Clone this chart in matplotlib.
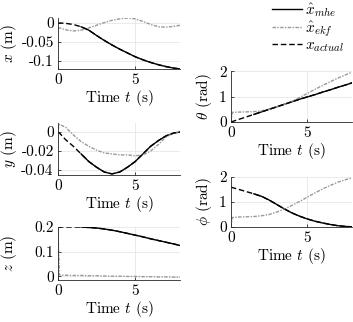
import matplotlib
matplotlib.use('Agg')
import matplotlib.pyplot as plt

plt.rcParams['font.family'] = 'serif'
plt.rcParams['font.serif'] = ['cmr10']
plt.rcParams['mathtext.fontset'] = 'cm'
plt.rcParams['axes.unicode_minus'] = False
plt.rcParams['font.size'] = 11

# time grid (s)
t = [0, 0.1, 0.5, 1.0, 1.5, 2.0, 2.5, 3.0, 3.5, 4.0, 4.5, 5.0, 5.5, 6.0,
     6.5, 7.0, 7.5, 7.9]
# mhe output starts once the horizon is filled
t_mhe = [1.5, 2.0, 2.5, 3.0, 3.5, 4.0, 4.5, 5.0, 5.5, 6.0, 6.5, 7.0, 7.5, 7.9]

x_act = [0, 0, -0.001, -0.004, -0.010, -0.019, -0.033, -0.046, -0.058, -0.069,
         -0.079, -0.089, -0.097, -0.104, -0.110, -0.115, -0.119, -0.121]
x_ekf = [-0.012, -0.013, -0.018, -0.021, -0.019, -0.013, -0.006, 0.001, 0.007,
         0.011, 0.013, 0.011, 0.004, -0.004, -0.010, -0.011, -0.009, -0.006]
x_mhe = [-0.010, -0.019, -0.033, -0.046, -0.058, -0.069, -0.079, -0.089,
         -0.097, -0.104, -0.110, -0.115, -0.119, -0.121]

y_act = [0, -0.001, -0.008, -0.015, -0.023, -0.031, -0.037, -0.042, -0.044,
         -0.042, -0.037, -0.031, -0.023, -0.015, -0.009, -0.004, -0.001, 0]
y_ekf = [0.002, 0.008, 0.005, -0.003, -0.010, -0.015, -0.019, -0.022, -0.023,
         -0.024, -0.024, -0.025, -0.024, -0.020, -0.013, -0.005, -0.001, 0]
y_mhe = [-0.023, -0.031, -0.037, -0.042, -0.044, -0.042, -0.037, -0.031,
         -0.023, -0.015, -0.009, -0.004, -0.001, 0]

z_act = [0.2, 0.2, 0.2, 0.2, 0.2, 0.198, 0.196, 0.192, 0.187, 0.181, 0.174,
         0.167, 0.160, 0.152, 0.145, 0.138, 0.131, 0.125]
z_ekf = [0.2, 0.005, 0.004, 0.003, 0.003, 0.002, 0.002, 0.001, 0.0, 0.0,
         -0.001, -0.001, -0.002, -0.002, -0.003, -0.003, -0.004, -0.004]
z_mhe = [0.2, 0.198, 0.196, 0.192, 0.187, 0.181, 0.174, 0.167, 0.160, 0.152,
         0.145, 0.138, 0.131, 0.125]

th_act = [0, 0.02, 0.1, 0.2, 0.3, 0.4, 0.5, 0.6, 0.7, 0.8, 0.9, 0.99, 1.08,
          1.18, 1.27, 1.37, 1.46, 1.54]
th_ekf = [0, 0.38, 0.39, 0.40, 0.41, 0.44, 0.50, 0.60, 0.70, 0.82, 0.97, 1.13,
          1.29, 1.44, 1.59, 1.73, 1.86, 1.96]
th_mhe = [0.3, 0.4, 0.5, 0.6, 0.7, 0.8, 0.9, 0.99, 1.08, 1.18, 1.27, 1.37,
          1.46, 1.54]

ph_act = [1.6, 1.58, 1.51, 1.42, 1.33, 1.23, 1.08, 0.90, 0.72, 0.56, 0.43,
          0.32, 0.23, 0.16, 0.10, 0.05, 0.02, 0.01]
ph_ekf = [0, 0.38, 0.40, 0.41, 0.42, 0.45, 0.50, 0.60, 0.72, 0.87, 1.03, 1.20,
          1.37, 1.53, 1.67, 1.80, 1.90, 1.96]
ph_mhe = [1.33, 1.23, 1.08, 0.90, 0.72, 0.56, 0.43, 0.32, 0.23, 0.16, 0.10,
          0.05, 0.02, 0.01]

fig = plt.figure(figsize=(3.53, 3.22), dpi=100)

# [left, bottom, width, height]
ax_x = fig.add_axes([0.164, 0.786, 0.346, 0.158])
ax_y = fig.add_axes([0.164, 0.457, 0.346, 0.161])
ax_z = fig.add_axes([0.164, 0.130, 0.346, 0.165])
ax_th = fig.add_axes([0.654, 0.621, 0.343, 0.158])
ax_ph = fig.add_axes([0.654, 0.295, 0.343, 0.155])

ekf_ls = (0, (2.5, 1, 1, 1))
ekf_col = '0.6'

panels = [
    (ax_x, x_mhe, x_ekf, x_act, r'$x$ (m)', (-0.121, 0.013),
     [-0.1, -0.05, 0], ['-0.1', '-0.05', '0'], -0.32),
    (ax_y, y_mhe, y_ekf, y_act, r'$y$ (m)', (-0.045, 0.0095),
     [-0.04, -0.02, 0], ['-0.04', '-0.02', '0'], -0.32),
    (ax_z, z_mhe, z_ekf, z_act, r'$z$ (m)', (-0.016, 0.2),
     [0, 0.1, 0.2], ['0', '0.1', '0.2'], -0.32),
    (ax_th, th_mhe, th_ekf, th_act, r'$\theta$ (rad)', (0, 2),
     [0, 1, 2], ['0', '1', '2'], -0.14),
    (ax_ph, ph_mhe, ph_ekf, ph_act, r'$\phi$ (rad)', (0, 2),
     [0, 1, 2], ['0', '1', '2'], -0.14),
]

for ax, mhe, ekf, act, lab, ylim, yt, ytl, lx in panels:
    l1, = ax.plot(t_mhe, mhe, color='k', lw=1.0, label=r'$\hat{x}_{mhe}$')
    l2, = ax.plot(t, ekf, color=ekf_col, lw=1.0, linestyle=ekf_ls,
                  label=r'$\hat{x}_{ekf}$')
    l3, = ax.plot(t, act, color='k', lw=1.0, linestyle=(0, (4, 2)),
                  label=r'$x_{actual}$')
    ax.set_xlim(0, 7.9)
    ax.set_ylim(*ylim)
    ax.set_xticks([0, 5])
    ax.set_xticklabels(['0', '5'])
    ax.set_yticks(yt)
    ax.set_yticklabels(ytl)
    ax.grid(True, color='0.9', lw=0.6)
    ax.set_axisbelow(True)
    for s in ['top', 'right']:
        ax.spines[s].set_visible(False)
    for s in ['left', 'bottom']:
        ax.spines[s].set_color('0.15')
        ax.spines[s].set_linewidth(0.6)
    ax.tick_params(direction='in', length=2, width=0.5, pad=3)
    ax.set_xlabel(r'Time $t$ (s)', labelpad=1)
    ax.set_ylabel(lab)
    ax.yaxis.set_label_coords(lx, 0.5)

fig.legend(handles=[l1, l2, l3], loc='upper right', bbox_to_anchor=(1.015, 1.04),
           frameon=False, handlelength=2.0, handletextpad=0.2, labelspacing=0.0,
           fontsize=11)

fig.savefig('out.png', dpi=100)
